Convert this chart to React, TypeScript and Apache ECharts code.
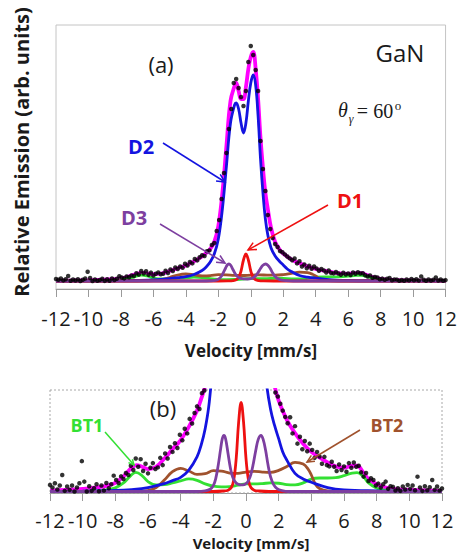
import React, { useEffect, useRef } from "react";
import * as echarts from "echarts";

// ---- x-axis tick values (mm/s) ----
const velMin = -12;
const velMax = 12;
const velStep = 2;

// ---- total fit (magenta) ----
const fitV = [-12,-11,-10,-9,-8.5,-8,-7.5,-7,-6.7,-6.4,-6,-5.5,-5,-4.5,-4,-3.5,-3,-2.75,-2.5,-2.25,-2,-1.75,-1.5,-1.25,-1,-0.9,-0.75,-0.6,-0.45,-0.3,-0.15,0,0.15,0.3,0.45,0.6,0.75,0.9,1.05,1.25,1.5,1.75,2,2.5,3,3.5,4,4.5,5,5.5,6,6.5,6.8,7.2,7.5,8,8.5,9,10,11,12];
const fitY = [0.3,0.5,0.8,1.3,1.8,2.6,4.6,7.2,8.0,7.6,6.8,7.5,10,12.8,15.6,19.6,24.5,28,32,39,55,88,135,180,195,198,190,182,182,194,212,224,229,212,182,143,113,88,72,53,39,32,27.5,21.7,17.7,14.5,12,10.3,8.8,7.6,7.2,7.8,7.8,5.6,3.8,2.2,1.3,0.8,0.5,0.3,0.2];

// ---- D2 doublet (blue) ----
const d2V = [-12,-10,-8,-7,-6,-5,-4.5,-4,-3.5,-3,-2.75,-2.5,-2.25,-2,-1.75,-1.5,-1.25,-1,-0.9,-0.75,-0.6,-0.45,-0.3,-0.15,0,0.15,0.3,0.45,0.6,0.75,0.9,1.05,1.25,1.5,1.75,2,2.25,2.5,3,3.5,4,5,6,8,10,12];
const d2Y = [0,0.1,0.3,0.6,1.2,2.4,3.3,4.3,6.5,10.5,14,19,27,42,72,115,158,176,178,172,158,148,158,180,198,206,196,165,122,88,62,46,33,25,20,16,12,9.5,5.5,3.8,2.8,1.2,0.5,0.2,0.1,0];

// ---- D1 singlet (red) ----
const d1V = [-12,-2,-1.4,-1.1,-0.9,-0.75,-0.6,-0.45,-0.3,-0.15,0,0.15,0.3,0.5,0.8,1.4,12];
const d1Y = [0,0,0.15,0.4,1.2,3.5,10,21,27,21,10,3.5,1.2,0.4,0.15,0,0];

// ---- D3 doublet (purple) ----
const d3V = [-12,-3,-2.5,-2.2,-2,-1.85,-1.7,-1.55,-1.45,-1.35,-1.25,-1.1,-0.95,-0.8,-0.6,-0.4,-0.2,0,0.15,0.3,0.45,0.6,0.75,0.92,1.05,1.2,1.35,1.5,1.7,1.9,2.2,2.6,12];
const d3Y = [0,0,0.2,0.7,1.8,4,8,13,16,17,16,11.5,7,4.2,2.6,2.1,2.0,2.4,3.3,5.2,8.5,12.5,15.8,17,15.8,12.5,8,4.5,2,0.9,0.3,0,0];

// ---- BT1 (green) ----
const bt1V = [-12,-10,-9,-8.5,-8,-7.5,-7.1,-6.75,-6.4,-6,-5.5,-5,-4.5,-4,-3.5,-3,-2.5,-2,-1.5,-1,-0.5,0,0.5,1,1.5,2,2.5,3,3.5,4,4.5,5,5.5,6,6.5,6.8,7.2,7.5,8,8.5,9,10,12];
const bt1Y = [0,0.1,0.2,0.5,1.1,2.6,4.6,5.8,5.0,3.0,2.0,2.1,2.6,3.2,3.8,3.4,2.3,1.6,1.4,1.5,1.9,2.3,2.3,2.4,2.6,2.5,2.1,2.0,2.6,3.8,4.1,4.1,4.2,4.8,5.6,5.7,4.4,2.6,1.0,0.4,0.2,0.1,0];

// ---- BT2 (brown) ----
const bt2V = [-12,-7,-6.5,-6,-5.5,-5,-4.5,-4,-3.5,-3,-2.5,-2,-1.5,-1,-0.5,0,0.5,1,1.5,2,2.5,3,3.5,3.8,4,4.25,4.5,5,6,12];
const bt2Y = [0,0,0.1,0.3,1.2,3.5,6.0,7.0,6.2,5.2,5.4,6.3,6.2,5.6,5.5,5.9,6.1,5.9,5.8,6.4,7.6,8.8,8.3,6.8,5.0,2.2,0.9,0.2,0,0];

// ---- measured spectrum (black dots) ----
const dotV = [-12,-11.85,-11.7,-11.55,-11.4,-11.25,-11.1,-10.95,-10.8,-10.65,-10.5,-10.35,-10.2,-10.05,-9.9,-9.75,-9.6,-9.45,-9.3,-9.15,-9,-8.85,-8.7,-8.55,-8.4,-8.25,-8.1,-7.95,-7.8,-7.65,-7.5,-7.35,-7.2,-7.05,-6.9,-6.75,-6.6,-6.45,-6.3,-6.15,-6,-5.85,-5.7,-5.55,-5.4,-5.25,-5.1,-4.95,-4.8,-4.65,-4.5,-4.35,-4.2,-4.05,-3.9,-3.75,-3.6,-3.45,-3.3,-3.15,-3,-2.85,-2.7,-2.55,-2.4,-2.25,-2.1,-1.95,-1.8,-1.65,-1.5,-1.35,-1.2,-1.05,-0.9,-0.75,-0.6,-0.45,-0.3,-0.15,0,0.15,0.3,0.45,0.6,0.75,0.9,1.05,1.2,1.35,1.5,1.65,1.8,1.95,2.1,2.25,2.4,2.55,2.7,2.85,3,3.15,3.3,3.45,3.6,3.75,3.9,4.05,4.2,4.35,4.5,4.65,4.8,4.95,5.1,5.25,5.4,5.55,5.7,5.85,6,6.15,6.3,6.45,6.6,6.75,6.9,7.05,7.2,7.35,7.5,7.65,7.8,7.95,8.1,8.25,8.4,8.55,8.7,8.85,9,9.15,9.3,9.45,9.6,9.75,9.9,10.05,10.2,10.35,10.5,10.65,10.8,10.95,11.1,11.25,11.4,11.55,11.7,11.85,12];
const dotY = [2.0,1.2,2.5,0.6,1.8,5.0,0.2,1.5,0.5,1.8,0.0,1.2,2.5,9.2,3.0,0.0,1.6,0.2,1.0,2.2,0.1,1.8,0.3,2.6,1.0,2.2,4.8,3.5,2.6,4.6,3.8,5.6,5.0,7.8,6.5,10.0,7.5,9.8,6.2,8.4,5.5,7.2,8.6,6.8,7.3,10.2,8.0,11.5,10.0,13.5,12.0,14.6,13.2,17.2,15.5,19.0,17.6,22.0,20.6,23.8,25.8,25.0,29.8,30.6,36,38,50,61,82,108,128,152,172,198,202,193,184,175,190,219,235,226,211,190,140,112,90,66,52,43,37,34,30,28.8,26.6,24.5,22.6,20.7,22.5,17.6,19.8,14.5,16.6,12.8,15.3,12.2,14.5,12.6,10.2,12.0,10.6,8.4,10.5,8.0,7.6,9.0,7.5,6.2,8.2,6.5,7.6,6.0,8.6,7.2,8.8,7.5,7.8,5.8,4.5,5.6,3.2,4.0,3.5,1.8,2.4,1.2,2.2,3.0,0.8,1.6,1.4,0.3,1.0,0.2,1.5,0.6,2.0,0.8,1.8,0.4,4.5,1.2,0.2,1.6,0.4,1.3,3.5,0.5,1.5,0.3,0.9];

const C = {
  fit: "#ff00ff",
  d2: "#1414e0",
  d1: "#ee1111",
  d3: "#7d3fa0",
  bt1: "#33e033",
  bt2: "#a0522d",
};

const pairs = (xs: number[], ys: number[]) => xs.map((x, i) => [x, ys[i]]);

function arrow(x1: number, y1: number, x2: number, y2: number, color: string, size = 9) {
  const a = Math.atan2(y2 - y1, x2 - x1);
  const p1 = [x2 - size * Math.cos(a - 0.45), y2 - size * Math.sin(a - 0.45)];
  const p2 = [x2 - size * Math.cos(a + 0.45), y2 - size * Math.sin(a + 0.45)];
  return [
    { type: "line", z: 50, shape: { x1, y1, x2, y2 }, style: { stroke: color, lineWidth: 1.5 } },
    { type: "polyline", z: 50, shape: { points: [p1, [x2, y2], p2] }, style: { stroke: color, lineWidth: 1.5, fill: null } },
  ];
}

function txt(text: string, x: number, y: number, opts: any = {}) {
  const { rotation, ...style } = opts;
  return {
    type: "text",
    z: 60,
    x,
    y,
    rotation: rotation || 0,
    style: {
      text,
      fill: "#1a1a1a",
      fontFamily: "Open Sans",
      fontSize: 19,
      align: "center",
      verticalAlign: "middle",
      ...style,
    },
  };
}

function seriesFor(g: number) {
  const base = { xAxisIndex: g, yAxisIndex: g, showSymbol: false, symbol: "none", smooth: 0.4, clip: true };
  return [
    { ...base, type: "line", name: "fit", data: pairs(fitV, fitY), z: 2, lineStyle: { color: C.fit, width: 3.8 } },
    { ...base, type: "line", name: "BT1", data: pairs(bt1V, bt1Y), z: 3, lineStyle: { color: C.bt1, width: 2.8 } },
    { ...base, type: "line", name: "BT2", data: pairs(bt2V, bt2Y), z: 3, lineStyle: { color: C.bt2, width: 2.8 } },
    { ...base, type: "line", name: "D2", data: pairs(d2V, d2Y), z: 4, lineStyle: { color: C.d2, width: 2.8 } },
    { ...base, type: "line", name: "D1", data: pairs(d1V, d1Y), z: 4, lineStyle: { color: C.d1, width: 2.8 } },
    { ...base, type: "line", name: "D3", data: pairs(d3V, d3Y), z: 5, lineStyle: { color: C.d3, width: 2.8 } },
    {
      type: "scatter",
      xAxisIndex: g,
      yAxisIndex: g,
      name: "data",
      data: pairs(dotV, dotY),
      symbolSize: 4.5,
      z: 8,
      clip: true,
      itemStyle: { color: "#000" },
    },
  ];
}

function xAxisFor(g: number, margin: number) {
  return {
    gridIndex: g,
    type: "value",
    min: velMin,
    max: velMax,
    interval: velStep,
    axisLine: { show: true, onZero: false, lineStyle: { color: "#9a9a9a", width: 1 } },
    axisTick: { show: true, inside: false, length: 8, lineStyle: { color: "#9a9a9a", width: 1 } },
    axisLabel: { color: "#1a1a1a", fontSize: 20, fontFamily: "Open Sans", margin },
    splitLine: { show: false },
  };
}

export default function App() {
  const ref = useRef<HTMLDivElement>(null);
  useEffect(() => {
    if (!ref.current) return;
    const chart = echarts.init(ref.current, undefined, { renderer: "svg" });
    const graphic: any[] = [
      {
        type: "rect",
        z: 1,
        shape: { x: 50, y: 390, width: 392, height: 103 },
        style: { fill: null, stroke: "#a8a8a8", lineWidth: 1, lineDash: [2, 2] },
      },
      txt("Relative Emission (arb. units)", 21, 152, { rotation: Math.PI / 2, fontWeight: "bold", fontSize: 20 }),
      txt("Velocity [mm/s]", 251, 350, { fontWeight: "bold", fontSize: 17 }),
      txt("Velocity [mm/s]", 251, 543, { fontWeight: "bold", fontSize: 15 }),
      txt("GaN", 400, 52, { fontSize: 24 }),
      txt("(a)", 161, 64, { fontSize: 22 }),
      txt("(b)", 163, 408, { fontSize: 22 }),
      txt("θ", 343, 110, { fontFamily: "Liberation Serif", fontStyle: "italic", fontSize: 20 }),
      txt("γ", 351, 119, { fontFamily: "Liberation Serif", fontStyle: "italic", fontSize: 12 }),
      txt("= 60", 375, 111, { fontFamily: "Liberation Serif", fontSize: 20 }),
      txt("o", 398, 105, { fontFamily: "Liberation Serif", fontSize: 13 }),
      txt("D2", 141, 146, { fontWeight: "bold", fontSize: 20, fill: C.d2 }),
      txt("D3", 134, 217, { fontWeight: "bold", fontSize: 20, fill: C.d3 }),
      txt("D1", 350, 200, { fontWeight: "bold", fontSize: 20, fill: C.d1 }),
      txt("BT1", 87, 425, { fontWeight: "bold", fontSize: 18, fill: C.bt1 }),
      txt("BT2", 387, 425, { fontWeight: "bold", fontSize: 18, fill: C.bt2 }),
      ...arrow(163, 143, 225, 182, C.d2),
      ...arrow(160, 224, 225, 263, C.d3),
      ...arrow(328, 205, 248, 250, C.d1),
      ...arrow(105, 432, 134, 465, C.bt1, 6),
      ...arrow(360, 430, 307, 462, C.bt2, 8),
    ];
    chart.setOption({
      animation: false,
      backgroundColor: "#ffffff",
      grid: [
        { left: 56, top: 25, width: 391, height: 264, show: true, borderColor: "#c4c4c4", borderWidth: 1 },
        { left: 50, top: 390, width: 392, height: 103, show: false },
      ],
      xAxis: [xAxisFor(0, 19), xAxisFor(1, 17)],
      yAxis: [
        { gridIndex: 0, type: "value", min: -8, max: 256, show: false },
        { gridIndex: 1, type: "value", min: -0.45, max: 30.75, show: false },
      ],
      series: [...seriesFor(0), ...seriesFor(1)],
      graphic,
    });
    return () => chart.dispose();
  }, []);
  return (
    <div
      ref={ref}
      style={{ position: "absolute", left: 0, top: 0, width: 460, height: 554, background: "#fff" }}
    />
  );
}
